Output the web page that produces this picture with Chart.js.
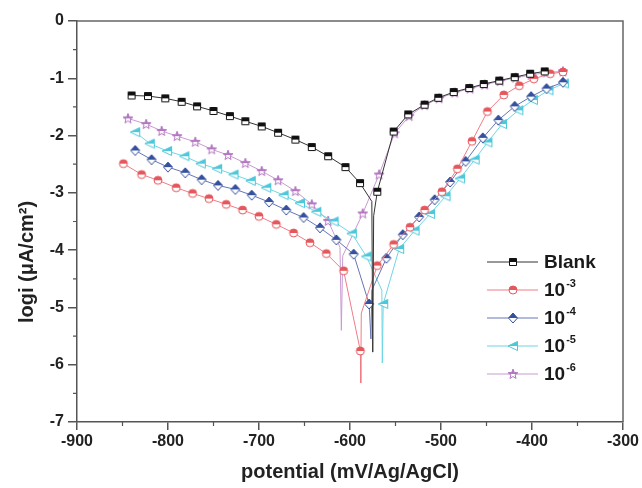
<!DOCTYPE html>
<html>
<head>
<meta charset="utf-8">
<script src="https://cdn.jsdelivr.net/npm/chart.js@4.4.1/dist/chart.umd.min.js"></script>
<style>
  html, body { margin: 0; padding: 0; background: #fff; }
  #wrap { width: 642px; height: 488px; }
</style>
</head>
<body>
<div id="wrap"><canvas id="tafel" width="642" height="488"></canvas></div>
<script>
// marker points: [potential (mV), log i]
const blankPts = [[-840,-1.30],[-822,-1.31],[-803,-1.35],[-785,-1.41],[-768,-1.49],[-750,-1.57],[-732,-1.66],[-715,-1.75],[-697,-1.84],[-679,-1.95],[-660,-2.07],[-642,-2.20],[-624,-2.36],[-605,-2.55],[-589,-2.83],
  [-570,-2.98],[-552,-1.93],[-536,-1.63],[-518,-1.46],[-503,-1.34],[-486,-1.24],[-469,-1.17],[-453,-1.10],[-436,-1.04],[-419,-0.98],[-402,-0.92],[-386,-0.88]]
const e3Pts = [[-849,-2.49],[-829,-2.68],[-811,-2.78],[-791,-2.91],[-773,-3.01],[-755,-3.10],[-736,-3.20],[-718,-3.30],[-700,-3.41],[-681,-3.55],[-662,-3.70],[-644,-3.87],[-626,-4.06],[-607,-4.36],[-588.6,-5.76],
  [-570,-4.27],[-552,-3.90],[-534,-3.60],[-518,-3.30],[-499,-2.98],[-482,-2.58],[-466,-2.10],[-449,-1.58],[-431,-1.29],[-414,-1.13],[-398,-1.01],[-380,-0.92],[-366,-0.89]]
const e4Pts = [[-836,-2.26],[-818,-2.42],[-800,-2.55],[-781,-2.65],[-763,-2.77],[-745,-2.87],[-726,-2.94],[-708,-3.04],[-689,-3.16],[-670,-3.30],[-651,-3.43],[-633,-3.61],[-615,-3.82],[-596,-4.07],[-579,-4.94],
  [-560,-4.14],[-542,-3.73],[-524,-3.42],[-507,-3.12],[-490,-2.81],[-473,-2.45],[-454,-2.04],[-437,-1.73],[-419,-1.49],[-401,-1.32],[-384,-1.18],[-366,-1.07]]
const e5Pts = [[-836,-1.94],[-820,-2.14],[-801,-2.27],[-782,-2.36],[-764,-2.49],[-746,-2.58],[-728,-2.68],[-709,-2.79],[-692,-2.91],[-673,-3.04],[-655,-3.18],[-637,-3.33],[-618,-3.50],[-598,-3.71],[-582,-4.11],
  [-563.5,-4.94],[-546,-3.98],[-529,-3.66],[-512,-3.37],[-495,-3.06],[-479,-2.75],[-463,-2.42],[-449,-2.12],[-433,-1.80],[-415,-1.56],[-399,-1.38],[-382,-1.21],[-365,-1.09]]
const e6Pts = [[-844,-1.70],[-824,-1.80],[-807,-1.92],[-790,-2.01],[-770,-2.11],[-752,-2.24],[-734,-2.34],[-715,-2.48],[-697,-2.62],[-679,-2.78],[-660,-2.97],[-642,-3.20],[-624,-3.49],
  [-586,-3.36],[-568,-2.68],[-551,-1.96],[-535,-1.66],[-518,-1.47],[-502,-1.35],[-485,-1.25],[-468,-1.18],[-452,-1.11],[-435,-1.05],[-418,-0.99],[-401,-0.94],[-384,-0.90],[-366,-0.88]]

// the sharp dip at the corrosion potential (no markers there)
const blankTip = [[-576,-3.15],[-575,-5.78],[-574,-3.40]]
const e3Tip = [[-588.2,-6.32],[-587.6,-5.10]]
const e4Tip = [[-577,-5.55],[-576,-4.70]]
const e5Tip = [[-565,-4.70],[-564.5,-5.97]]
const e6Tip = [[-611,-3.95],[-609.5,-5.40],[-608,-4.10]]

const seriesNames = ['Blank', '10', '10', '10', '10']
const seriesExp = ['', '-3', '-4', '-5', '-6']
const xTicks = [-900, -800, -700, -600, -500, -400, -300]
const yTicks = [0, -1, -2, -3, -4, -5, -6, -7]

const FONT = "'Liberation Sans', Arial, sans-serif"
const AXIS = '#555'

const buildLine = (pts, tip) => {
  const t0 = tip[0][0]
  const toObj = p => ({ x: p[0], y: p[1] })
  return [
    ...pts.filter(p => p[0] < t0).map(toObj),
    ...tip.map(p => ({ x: p[0], y: p[1], tip: true })),
    ...pts.filter(p => p[0] >= t0).map(toObj)
  ]
}

// small half-filled markers like the Origin ones
const makeMarker = (shape, color) => {
  const c = document.createElement('canvas')
  c.width = 12
  c.height = 12
  const g = c.getContext('2d')
  const path = () => {
    g.beginPath()
    if (shape == 'square') {
      g.rect(2.5, 2.5, 7, 7)
    } else if (shape == 'circle') {
      g.arc(6, 6, 4, 0, Math.PI * 2)
    } else if (shape == 'diamond') {
      g.moveTo(6, 1); g.lineTo(10.5, 6); g.lineTo(6, 11); g.lineTo(1.5, 6); g.closePath()
    } else if (shape == 'triangle') {
      g.moveTo(1, 6); g.lineTo(10.5, 1.5); g.lineTo(10.5, 10.5); g.closePath()
    } else {
      for (let i = 0; i < 10; i++) {
        const r = i % 2 ? 2.2 : 5.2
        const a = -Math.PI / 2 + i * Math.PI / 5
        const px = 6 + r * Math.cos(a), py = 6.3 + r * Math.sin(a)
        i ? g.lineTo(px, py) : g.moveTo(px, py)
      }
      g.closePath()
    }
  }
  path()
  g.fillStyle = '#fff'
  g.fill()
  g.save()
  g.beginPath()
  g.rect(0, 0, 12, 6)
  g.clip()
  path()
  g.fillStyle = color
  g.fill()
  g.restore()
  path()
  g.strokeStyle = color
  g.lineWidth = 1
  g.stroke()
  return c
}

const series = [
  { pts: blankPts, tip: blankTip, line: '#333', marker: makeMarker('square', '#111') },
  { pts: e3Pts, tip: e3Tip, line: '#f07c86', marker: makeMarker('circle', '#e5575c') },
  { pts: e4Pts, tip: e4Tip, line: '#6675b5', marker: makeMarker('diamond', '#34509e') },
  { pts: e5Pts, tip: e5Tip, line: '#6fd6e4', marker: makeMarker('triangle', '#4cc8da') },
  { pts: e6Pts, tip: e6Tip, line: '#c89ad2', marker: makeMarker('star', '#b276c0') }
]

const datasets = series.map((s, i) => ({
  label: seriesNames[i] + (seriesExp[i] ? seriesExp[i].replace('-', '⁻').replace('3', '³').replace('4', '⁴').replace('5', '⁵').replace('6', '⁶') : ''),
  data: buildLine(s.pts, s.tip),
  showLine: true,
  borderColor: s.line,
  borderWidth: 1,
  tension: 0,
  pointStyle: s.marker,
  pointRadius: ctx => (ctx.raw && ctx.raw.tip ? 0 : 4)
}))

const halfSteps = arr => arr.slice(1).map((v, i) => (v + arr[i]) / 2)

const framePlugin = {
  id: 'frame',
  afterDraw(chart) {
    const { ctx, chartArea: a, scales } = chart
    ctx.save()
    // top and right edges of the box
    ctx.strokeStyle = '#666'
    ctx.lineWidth = 1.5
    ctx.beginPath()
    ctx.moveTo(a.left, a.top)
    ctx.lineTo(a.right, a.top)
    ctx.lineTo(a.right, a.bottom)
    ctx.stroke()
    // minor ticks
    ctx.strokeStyle = AXIS
    ctx.lineWidth = 1.2
    ctx.beginPath()
    halfSteps(xTicks).forEach(v => {
      const px = scales.x.getPixelForValue(v)
      ctx.moveTo(px, a.bottom)
      ctx.lineTo(px, a.bottom + 4)
    })
    halfSteps(yTicks).forEach(v => {
      const py = scales.y.getPixelForValue(v)
      ctx.moveTo(a.left, py)
      ctx.lineTo(a.left - 4, py)
    })
    ctx.stroke()

    // y axis title
    ctx.fillStyle = '#222'
    ctx.font = `bold 20px ${FONT}`
    ctx.textAlign = 'center'
    ctx.textBaseline = 'middle'
    ctx.translate(27, 262)
    ctx.rotate(-Math.PI / 2)
    ctx.fillText('logi (μA/cm²)', 0, 0)
    ctx.restore()

    // legend with line + marker
    ctx.save()
    series.forEach((s, i) => {
      const y = 262 + i * 28
      ctx.strokeStyle = s.line
      ctx.lineWidth = 1
      ctx.beginPath()
      ctx.moveTo(487, y)
      ctx.lineTo(538, y)
      ctx.stroke()
      ctx.drawImage(s.marker, 513 - 6, y - 6)
      ctx.fillStyle = '#1a1a1a'
      ctx.textAlign = 'left'
      ctx.textBaseline = 'middle'
      ctx.font = `bold 19px ${FONT}`
      ctx.fillText(seriesNames[i], 544, y + 1)
      if (seriesExp[i]) {
        const w = ctx.measureText(seriesNames[i]).width
        ctx.font = `bold 11px ${FONT}`
        ctx.fillText(seriesExp[i], 544 + w + 1, y - 6)
      }
    })
    ctx.restore()
  }
}

const tickFont = { family: FONT, size: 16, weight: 'bold' }

new Chart(document.getElementById('tafel'), {
  type: 'scatter',
  data: { datasets: datasets },
  options: {
    responsive: false,
    animation: false,
    devicePixelRatio: 1,
    layout: { padding: { top: 21, right: 19, left: 0, bottom: 0 } },
    plugins: {
      legend: { display: false },
      tooltip: { enabled: false }
    },
    scales: {
      x: {
        type: 'linear',
        min: -900,
        max: -300,
        afterBuildTicks: s => { s.ticks = xTicks.map(v => ({ value: v })) },
        afterFit: s => { s.height = 66 },
        ticks: { font: tickFont, color: '#222', padding: 2, autoSkip: false, maxRotation: 0 },
        grid: { drawOnChartArea: false, tickLength: 8, color: AXIS, lineWidth: 1.5 },
        border: { display: true, color: AXIS, width: 1.5 },
        title: {
          display: true,
          text: 'potential (mV/Ag/AgCl)',
          color: '#222',
          font: { family: FONT, size: 20, weight: 'bold' },
          padding: { top: 0, bottom: 4 }
        }
      },
      y: {
        type: 'linear',
        min: -7,
        max: 0,
        afterBuildTicks: s => { s.ticks = yTicks.map(v => ({ value: v })) },
        afterFit: s => { s.width = 77 },
        ticks: { font: tickFont, color: '#222', padding: 4, autoSkip: false },
        grid: { drawOnChartArea: false, tickLength: 9, color: AXIS, lineWidth: 1.5 },
        border: { display: true, color: AXIS, width: 1.5 }
      }
    }
  },
  plugins: [framePlugin]
})
</script>
</body>
</html>
